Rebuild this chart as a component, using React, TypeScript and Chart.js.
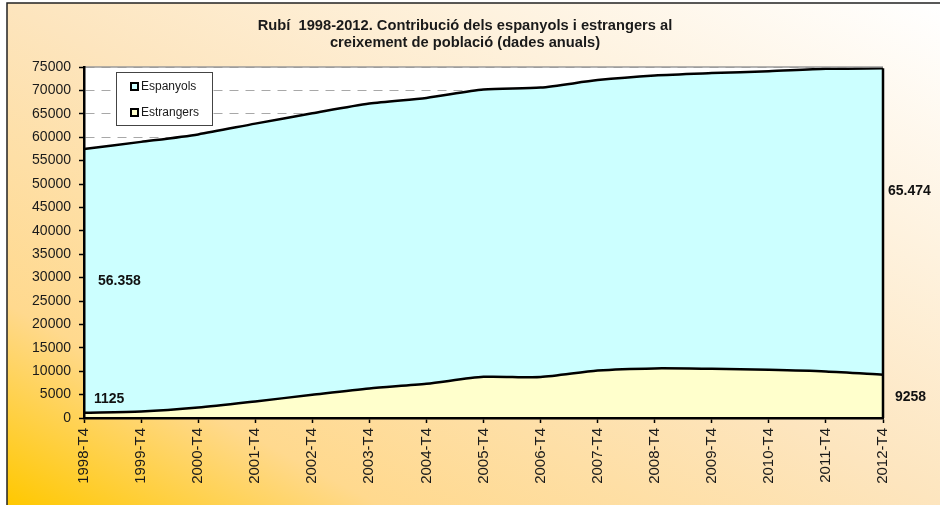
import React, { useEffect, useRef } from "react";
import { Chart, registerables } from "chart.js";

Chart.register(...registerables);

const categories = [
  "1998-T4", "1999-T4", "2000-T4", "2001-T4", "2002-T4", "2003-T4", "2004-T4", "2005-T4",
  "2006-T4", "2007-T4", "2008-T4", "2009-T4", "2010-T4", "2011-T4", "2012-T4",
];
const estrangers = [1125, 1400, 2250, 3550, 4950, 6300, 7300, 8800, 8750, 10150, 10600, 10500, 10300, 9950, 9258];
const espanyols = [56358, 57600, 58350, 59350, 60150, 60900, 61100, 61400, 61850, 62050, 62600, 63200, 63800, 64650, 65474];
const titleLines = [
  "Rubí  1998-2012. Contribució dels espanyols i estrangers al",
  "creixement de població (dades anuals)",
];
const seriesNames = ["Espanyols", "Estrangers"];
const yMin = 0;
const yMax = 75000;
const yStep = 5000;

const FONT = "Arial, 'Liberation Sans', sans-serif";
const CYAN = "#CCFFFF";
const YELLOW = "#FFFFCC";

function fmtDot(v: number) {
  return String(v).replace(/\B(?=(\d{3})+(?!\d))/g, ".");
}

const decor = {
  id: "decor",
  beforeDraw(chart: any) {
    const { ctx, width, height, chartArea } = chart;
    ctx.save();
    ctx.fillStyle = "#ffffff";
    ctx.fillRect(0, 0, width, height);
    const x0 = 7, y0 = 3, w = width - x0, h = height - y0;
    const dx = h, dy = -w;
    const proj = (w * dx + -h * dy) / (dx * dx + dy * dy);
    const g = ctx.createLinearGradient(x0, y0 + h, x0 + proj * dx, y0 + h + proj * dy);
    g.addColorStop(0, "#FFC800");
    g.addColorStop(0.2, "#FFD98E");
    g.addColorStop(0.5, "#FDE5BE");
    g.addColorStop(1, "#FFFFFF");
    ctx.fillStyle = g;
    ctx.fillRect(x0, y0, w, h);
    ctx.strokeStyle = "#222";
    ctx.lineWidth = 1.5;
    ctx.beginPath();
    ctx.moveTo(x0, height);
    ctx.lineTo(x0, y0);
    ctx.lineTo(width, y0);
    ctx.stroke();
    ctx.fillStyle = "#ffffff";
    ctx.fillRect(chartArea.left, chartArea.top, chartArea.right - chartArea.left, chartArea.bottom - chartArea.top);
    ctx.restore();
  },
  afterDatasetsDraw(chart: any) {
    const { ctx, chartArea } = chart;
    const xs = chart.scales.x;
    const ys = chart.scales.y;
    const last = categories.length - 1;
    ctx.save();
    ctx.strokeStyle = "#9a9a9a";
    ctx.lineWidth = 1.5;
    ctx.beginPath();
    ctx.moveTo(chartArea.left, ys.getPixelForValue(yMax));
    ctx.lineTo(chartArea.right, ys.getPixelForValue(yMax));
    ctx.stroke();
    ctx.strokeStyle = "#000";
    ctx.lineWidth = 2.5;
    ctx.beginPath();
    const xr = xs.getPixelForValue(last);
    ctx.moveTo(xr, ys.getPixelForValue(0));
    ctx.lineTo(xr, ys.getPixelForValue(espanyols[last] + estrangers[last]));
    ctx.stroke();
    ctx.restore();
  },
  afterDraw(chart: any) {
    const { ctx, chartArea } = chart;
    const ys = chart.scales.y;
    const last = categories.length - 1;
    ctx.save();
    ctx.fillStyle = "#1a1a1a";
    ctx.font = `bold 14.7px ${FONT}`;
    ctx.textAlign = "center";
    ctx.textBaseline = "alphabetic";
    ctx.fillText(titleLines[0], 465, 30);
    ctx.fillText(titleLines[1], 465, 47);
    const lx = 116, ly = 72, lw = 96, lh = 53;
    ctx.fillStyle = "#fff";
    ctx.fillRect(lx, ly, lw, lh);
    ctx.strokeStyle = "#444";
    ctx.lineWidth = 1;
    ctx.strokeRect(lx + 0.5, ly + 0.5, lw, lh);
    const items = [
      { name: seriesNames[0], color: CYAN, y: 86 },
      { name: seriesNames[1], color: YELLOW, y: 112 },
    ];
    ctx.font = `12px ${FONT}`;
    ctx.textAlign = "left";
    ctx.textBaseline = "middle";
    for (const it of items) {
      ctx.fillStyle = "#000";
      ctx.fillRect(130, it.y - 4, 9, 9);
      ctx.fillStyle = it.color;
      ctx.fillRect(132, it.y - 2, 5, 5);
      ctx.fillStyle = "#1a1a1a";
      ctx.fillText(it.name, 141, it.y + 0.5);
    }
    ctx.font = `bold 14px ${FONT}`;
    ctx.fillStyle = "#111";
    ctx.textBaseline = "middle";
    ctx.textAlign = "left";
    const l0 = chartArea.left;
    ctx.fillText(fmtDot(espanyols[0]), l0 + 14, ys.getPixelForValue(estrangers[0] + espanyols[0] / 2));
    ctx.fillText(String(estrangers[0]), l0 + 10, 399);
    const r0 = chartArea.right;
    ctx.fillText(fmtDot(espanyols[last]), r0 + 5, ys.getPixelForValue(estrangers[last] + espanyols[last] * 0.6));
    ctx.fillText(String(estrangers[last]), r0 + 12, 397);
    ctx.restore();
  },
};

export default function App() {
  const ref = useRef<HTMLCanvasElement | null>(null);
  useEffect(() => {
    if (!ref.current) return;
    const chart = new Chart(ref.current, {
      type: "line",
      data: {
        labels: categories,
        datasets: [
          {
            label: seriesNames[1],
            data: estrangers,
            backgroundColor: YELLOW,
            borderColor: "#000",
            borderWidth: 2.5,
            fill: "origin",
            pointRadius: 0,
            tension: 0.25,
          },
          {
            label: seriesNames[0],
            data: espanyols,
            backgroundColor: CYAN,
            borderColor: "#000",
            borderWidth: 2.5,
            fill: "-1",
            pointRadius: 0,
            tension: 0.25,
          },
        ],
      },
      options: {
        responsive: false,
        animation: false,
        devicePixelRatio: 1,
        layout: { padding: { left: 0, right: 57, top: 67, bottom: 0 } },
        plugins: {
          legend: { display: false },
          title: { display: false },
          tooltip: { enabled: false },
        },
        scales: {
          x: {
            offset: false,
            grid: {
              display: true,
              drawOnChartArea: false,
              drawTicks: true,
              tickLength: 5,
              tickColor: "#000",
              tickWidth: 1.5,
            },
            border: { display: true, color: "#000", width: 2.5, z: 1 },
            ticks: {
              color: "#1a1a1a",
              font: { family: FONT, size: 15 },
              minRotation: 90,
              maxRotation: 90,
              autoSkip: false,
              padding: 5,
            },
            afterFit: (s: any) => {
              s.height = 505 - 418;
            },
          },
          y: {
            stacked: true,
            min: yMin,
            max: yMax,
            grid: {
              color: "#a8a8a8",
              lineWidth: 1,
              tickColor: "#000",
              tickLength: 5,
              tickWidth: 1.5,
              tickBorderDash: [],
            },
            border: { display: true, color: "#000", width: 2.5, dash: [9, 7], z: 1 },
            ticks: {
              stepSize: yStep,
              color: "#1a1a1a",
              font: { family: FONT, size: 14 },
              padding: 8,
              callback: (v: any) => String(v),
            },
            afterFit: (s: any) => {
              s.width = 84;
            },
          },
        },
      },
      plugins: [decor],
    });
    return () => chart.destroy();
  }, []);
  return (
    <div style={{ position: "fixed", left: 0, top: 0, width: 940, height: 505 }}>
      <canvas ref={ref} width={940} height={505} style={{ display: "block", width: 940, height: 505 }} />
    </div>
  );
}
